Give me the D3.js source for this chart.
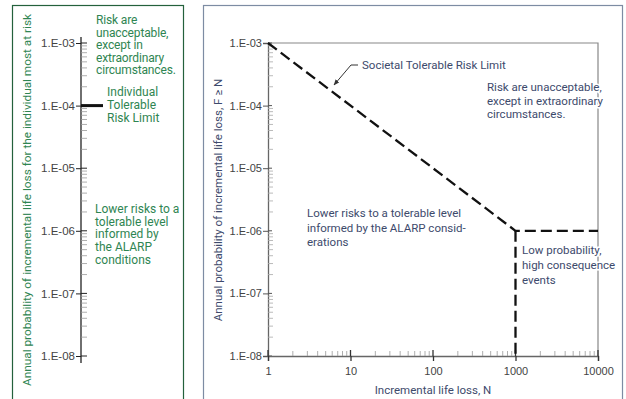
<!DOCTYPE html>
<html>
<head>
<meta charset="utf-8">
<script src="https://cdn.jsdelivr.net/npm/d3@7"></script>
<style>
  body { margin: 0; background: #fff; }
  svg { display: block; font-family: Roboto, "Open Sans", sans-serif; }
</style>
</head>
<body>
<svg width="626" height="399"></svg>
<script>
// values
var yMajors = [1e-8, 1e-7, 1e-6, 1e-5, 1e-4, 1e-3];
var yTickLabels = ['1.E-08', '1.E-07', '1.E-06', '1.E-05', '1.E-04', '1.E-03'];
var xMajors = [1, 10, 100, 1000, 10000];
var xTickLabels = ['1', '10', '100', '1000', '10000'];
var individualLimit = 1e-4;
var societalN = [1, 1000, 10000];
var societalF = [1e-3, 1e-6, 1e-6];
var hcN = [1000, 1000];
var hcF = [1e-6, 1e-8];

var green = '#2f8552', greenDark = '#24613c', blue = '#3d4a6c';

var svg = d3.select('svg');

// minor log ticks (2..9 in every decade)
function minors(lo, hi) {
  var out = [];
  for (var e = lo; e < hi; e++) {
    for (var m = 2; m < 10; m++) out.push(m * Math.pow(10, e));
  }
  return out;
}

function block(g, x, y, lh, lines, col, size) {
  var t = g.append('text').attr('x', x).attr('y', y).attr('fill', col).attr('font-size', size);
  lines.forEach(function(s, i) {
    t.append('tspan').attr('x', x).attr('dy', i ? lh : 0).text(s);
  });
  return t;
}

// white halo so a label can sit over the frame line
function halo(t) {
  return t.attr('stroke', '#fff').attr('stroke-width', 3).attr('paint-order', 'stroke');
}

// ---------- left panel ----------
svg.append('rect')
  .attr('x', 12.5).attr('y', 5.5).attr('width', 171).attr('height', 410)
  .attr('fill', 'none').attr('stroke', greenDark).attr('stroke-width', 1.2);

var yL = d3.scaleLog().domain([1e-8, 1e-3]).range([356, 43]);
var ax0 = 81;

var gl = svg.append('g').attr('transform', 'translate(' + ax0 + ',0)');
gl.call(d3.axisLeft(yL).tickValues(yMajors).tickSize(5).tickPadding(1)
    .tickFormat(function(d, i) { return yTickLabels[i]; }))
  .call(function(g) { g.select('.domain').remove(); })
  .selectAll('text').attr('font-size', 11.5).attr('fill', '#444');
gl.selectAll('.tick line').attr('stroke', '#222');

gl.append('line').attr('x1', 0).attr('x2', 0).attr('y1', 37).attr('y2', 363)
  .attr('stroke', '#222').attr('stroke-width', 1.3);
gl.selectAll('.maj-in').data(yMajors).enter().append('line')
  .attr('x1', 0).attr('x2', 6).attr('y1', d => yL(d)).attr('y2', d => yL(d))
  .attr('stroke', '#222');
gl.selectAll('.min').data(minors(-8, -3)).enter().append('line')
  .attr('x1', 0).attr('x2', 6).attr('y1', d => yL(d)).attr('y2', d => yL(d))
  .attr('stroke', '#999').attr('stroke-width', 0.8);

// individual tolerable risk limit
gl.append('line').attr('x1', 0).attr('x2', 22)
  .attr('y1', yL(individualLimit)).attr('y2', yL(individualLimit))
  .attr('stroke', '#111').attr('stroke-width', 3);

block(svg, 96, 24, 12.5, ['Risk are', 'unacceptable,', 'except in', 'extraordinary', 'circumstances.'], green, 12)
  .attr('letter-spacing', -0.15);
block(svg, 107, 96, 13, ['Individual', 'Tolerable', 'Risk Limit'], green, 12);
block(svg, 95, 213, 12.7, ['Lower risks to a', 'tolerable level', 'informed by', 'the ALARP', 'conditions'], green, 12);

svg.append('text')
  .attr('transform', 'translate(31,200) rotate(-90)')
  .attr('text-anchor', 'middle').attr('fill', green).attr('font-size', 11.5)
  .attr('textLength', 372).attr('lengthAdjust', 'spacingAndGlyphs')
  .text('Annual probability of incremental life loss for the individual most at risk');

// ---------- right panel ----------
svg.append('rect')
  .attr('x', 203.5).attr('y', 5.5).attr('width', 419).attr('height', 410)
  .attr('fill', 'none').attr('stroke', '#7d8ca3').attr('stroke-width', 1.2);

var x = d3.scaleLog().domain([1, 10000]).range([268, 598]);
var y = d3.scaleLog().domain([1e-8, 1e-3]).range([356, 43]);

// frame
svg.append('path')
  .attr('d', 'M' + x(1) + ',' + y(1e-3) + 'H' + x(10000) + 'V' + y(1e-8))
  .attr('fill', 'none').attr('stroke', '#888').attr('stroke-width', 1.2);

var gy = svg.append('g').attr('transform', 'translate(' + x(1) + ',0)');
gy.call(d3.axisLeft(y).tickValues(yMajors).tickSize(5).tickPadding(1)
    .tickFormat(function(d, i) { return yTickLabels[i]; }))
  .selectAll('text').attr('font-size', 11).attr('fill', '#444');
gy.select('.domain').attr('stroke', '#666').attr('stroke-width', 1.3);
gy.selectAll('.tick line').attr('stroke', '#555');
gy.selectAll('.maj-in').data(yMajors).enter().append('line')
  .attr('x1', 0).attr('x2', 4).attr('y1', d => y(d)).attr('y2', d => y(d))
  .attr('stroke', '#555');
gy.selectAll('.min').data(minors(-8, -3)).enter().append('line')
  .attr('x1', 0).attr('x2', 5).attr('y1', d => y(d)).attr('y2', d => y(d))
  .attr('stroke', '#aaa').attr('stroke-width', 0.8);

var gx = svg.append('g').attr('transform', 'translate(0,' + y(1e-8) + ')');
gx.call(d3.axisBottom(x).tickValues(xMajors).tickSize(5).tickPadding(6)
    .tickFormat(function(d, i) { return xTickLabels[i]; }))
  .selectAll('text').attr('font-size', 11).attr('fill', '#444');
gx.select('.domain').attr('stroke', '#666').attr('stroke-width', 1.3);
gx.selectAll('.tick line').attr('stroke', '#333').attr('stroke-width', 1.3);
gx.selectAll('.maj-in').data(xMajors).enter().append('line')
  .attr('x1', d => x(d)).attr('x2', d => x(d)).attr('y1', 0).attr('y2', -6)
  .attr('stroke', '#333').attr('stroke-width', 1.3);
gx.selectAll('.min').data(minors(0, 4)).enter().append('line')
  .attr('x1', d => x(d)).attr('x2', d => x(d)).attr('y1', 0).attr('y2', -5)
  .attr('stroke', '#999').attr('stroke-width', 0.8);

svg.append('text')
  .attr('x', 433).attr('y', 394).attr('text-anchor', 'middle')
  .attr('fill', blue).attr('font-size', 11.5)
  .text('Incremental life loss, N');

svg.append('text')
  .attr('transform', 'translate(222,200) rotate(-90)')
  .attr('text-anchor', 'middle').attr('fill', blue).attr('font-size', 11.5)
  .text('Annual probability of incremental life loss, F \u2265 N');

// dashed limit lines
var line = d3.line().x(d => x(d[0])).y(d => y(d[1]));
svg.append('path')
  .datum(societalN.map((n, i) => [n, societalF[i]]))
  .attr('d', line).attr('fill', 'none')
  .attr('stroke', '#111').attr('stroke-width', 2.3).attr('stroke-dasharray', '11,5');
svg.append('path')
  .datum(hcN.map((n, i) => [n, hcF[i]]))
  .attr('d', line).attr('fill', 'none')
  .attr('stroke', '#111').attr('stroke-width', 2.3).attr('stroke-dasharray', '11,5');

// annotation leader
svg.append('defs').append('marker')
  .attr('id', 'arr').attr('viewBox', '0 0 10 10').attr('refX', 9).attr('refY', 5)
  .attr('markerWidth', 6).attr('markerHeight', 6).attr('orient', 'auto')
  .append('path').attr('d', 'M0,1L10,5L0,9z').attr('fill', '#333');
svg.append('path')
  .attr('d', 'M358,65H351L334,85')
  .attr('fill', 'none').attr('stroke', '#333').attr('stroke-width', 1)
  .attr('marker-end', 'url(#arr)');

block(svg, 362, 69, 13, ['Societal Tolerable Risk Limit'], blue, 11.5);
halo(block(svg, 487, 91, 13.5, ['Risk are unacceptable,', 'except in extraordinary', 'circumstances.'], blue, 11.5));
block(svg, 307, 217, 14.5, ['Lower risks to a tolerable level', 'informed by the ALARP consid-', 'erations'], blue, 11.5);
halo(block(svg, 522, 254, 15, ['Low probability,', 'high consequence', 'events'], blue, 11.5));
</script>
</body>
</html>
